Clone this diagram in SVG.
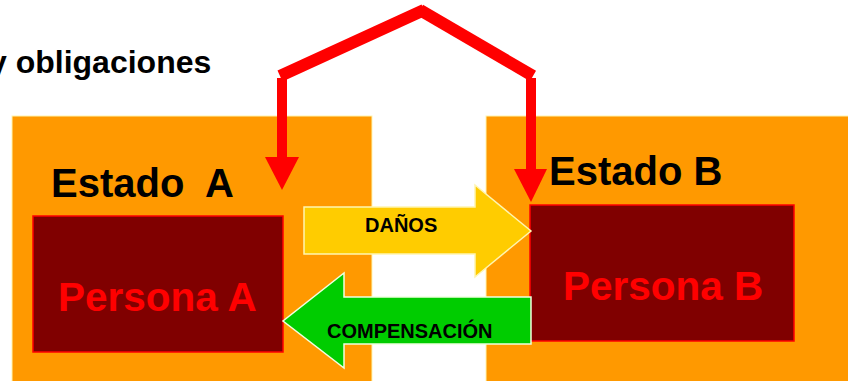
<svg xmlns="http://www.w3.org/2000/svg" width="848" height="381" viewBox="0 0 848 381">
<style>
.t{font-family:"Liberation Sans",Arial,sans-serif;font-weight:bold}
.state{fill:#FF9900;stroke:#FFF5B0;stroke-width:1}
.person{fill:#800000;stroke:#FF0000;stroke-width:1.5}
.ptext{fill:#FF0000;font-size:40.5px}
.stext{fill:#000;font-size:40px;white-space:pre}
.red{stroke:#FF0000;stroke-width:10;fill:none;stroke-linecap:butt}
.slant{stroke:#FF0000;stroke-width:12;fill:none;stroke-linecap:butt}
.head{fill:#FF0000}
</style>
<rect width="848" height="381" fill="#fff"/>
<text class="t" x="-11" y="73" font-size="32" fill="#000">y obligaciones</text>
<g id="estado-a">
<rect class="state" x="12" y="116" width="360" height="270"/>
<text class="t stext" x="51" y="197" xml:space="preserve">Estado  A</text>
</g>
<g id="estado-b">
<rect class="state" x="486" y="116" width="370" height="270"/>
<text class="t stext" x="549" y="185">Estado B</text>
</g>
<g id="persona-a">
<rect class="person" x="33" y="216" width="250" height="136"/>
<text class="t ptext" x="58" y="311">Persona A</text>
</g>
<g id="persona-b">
<rect class="person" x="530" y="205" width="264" height="136"/>
<text class="t ptext" x="563" y="300">Persona B</text>
</g>
<g id="connectors">
<g id="danos">
<polygon points="304,207 475,207 475,185 531,231 475,277 475,254 304,254" fill="#FFCC00" stroke="#FFF5B0" stroke-width="1.5"/>
<text class="t" x="365" y="232" font-size="20" fill="#000">DAÑOS</text>
</g>
<g id="compensacion">
<polygon points="531,297 344,297 344,273 283,321 344,368 344,344 531,344" fill="#00CC00" stroke="#F0FFE0" stroke-width="1.5"/>
<text class="t" x="327" y="338" font-size="20" fill="#000">COMPENSACIÓN</text>
</g>
<g id="obligaciones">
<line class="red" x1="282" y1="78" x2="282" y2="158"/>
<line class="slant" x1="280" y1="76" x2="424" y2="10"/>
<line class="slant" x1="420" y1="10" x2="533" y2="76"/>
<line class="red" x1="531" y1="78" x2="531" y2="170"/>
<polygon class="head" points="265,157 299,157 282,190"/>
<polygon class="head" points="514,169 547,169 531,202"/>
</g>
</g>
</svg>
